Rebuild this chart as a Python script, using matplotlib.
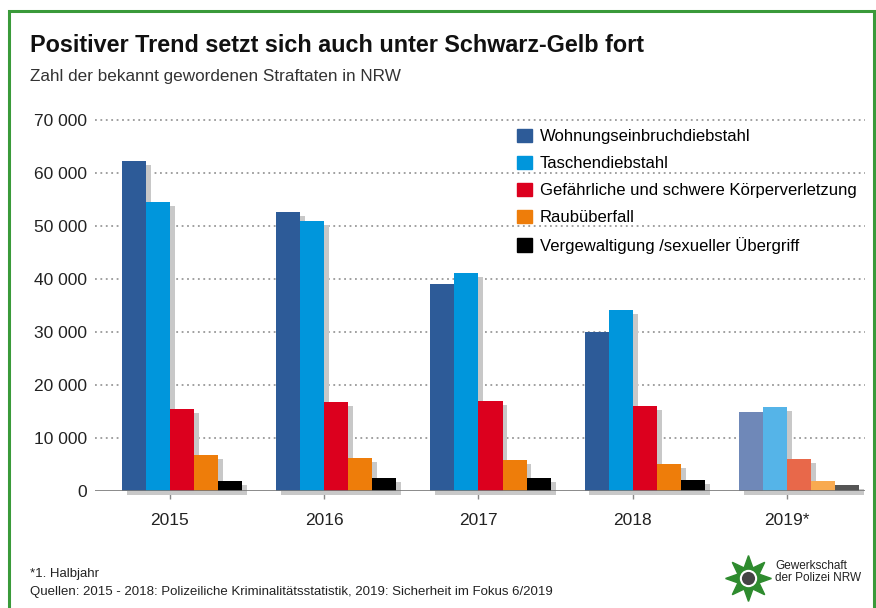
import numpy as np
import matplotlib.pyplot as plt
import matplotlib.patheffects as pe
from matplotlib.patches import Rectangle

plt.rcParams['font.family'] = ['Liberation Sans', 'DejaVu Sans']

years = ['2015', '2016', '2017', '2018', '2019*']
series = ['Wohnungseinbruchdiebstahl', 'Taschendiebstahl',
          'Gefährliche und schwere Körperverletzung', 'Raubüberfall',
          'Vergewaltigung /sexueller Übergriff']
wohnung = [62300, 52600, 39000, 30000, 14900]
tasche = [54500, 50900, 41100, 34100, 15800]
koerper = [15500, 16800, 17000, 16000, 6000]
raub = [6800, 6200, 5800, 5100, 1900]
vergew = [1900, 2400, 2400, 2100, 1100]
values = [wohnung, tasche, koerper, raub, vergew]

colors = ['#2d5b98', '#0096dc', '#dc001e', '#ee7d0a', '#000000']
colors_2019 = ['#6f88b8', '#55b4e8', '#e8684a', '#f8aa50', '#555555']
yticks = [0, 10000, 20000, 30000, 40000, 50000, 60000, 70000]

fig = plt.figure(figsize=(8.76, 6.08), dpi=100)
ax = fig.add_axes([95 / 876, 1 - 491 / 608, 770 / 876, 371 / 608])

x = np.arange(len(years))
w = 0.156
shadow = [pe.SimplePatchShadow(offset=(3.5, -3), shadow_rgbFace='#c8c8c8', alpha=1.0), pe.Normal()]
for i, vals in enumerate(values):
    cols = [colors[i]] * (len(years) - 1) + [colors_2019[i]]
    bars = ax.bar(x + (i - 2) * w, vals, width=w, align='edge', color=cols,
                  label=series[i], zorder=3)
    for b in bars:
        b.set_path_effects(shadow)
        b.set_clip_on(False)

ax.set_xlim(-0.486, 4.506)
ax.set_ylim(0, 70000)
ax.set_yticks(yticks)
ax.set_yticklabels([f'{v:,}'.replace(',', ' ') for v in yticks], fontsize=12.5)
ax.set_xticks(x)
ax.set_xticklabels(years, fontsize=12.5)
for yv in yticks[1:]:
    ax.axhline(yv, color='#999999', lw=1.3, ls=(0, (1, 2)), zorder=1, clip_on=False)
ax.axhline(0, color='#777777', lw=1.2, zorder=4)
for s in ax.spines.values():
    s.set_visible(False)
ax.tick_params(axis='y', length=0, pad=6, colors='#222222')
ax.tick_params(axis='x', length=6, width=1, color='#888888', pad=10)
for t in ax.get_xticklabels():
    t.set_color('#222222')

handles = [Rectangle((0, 0), 1, 1, color=c) for c in colors]
ax.legend(handles, series, loc='upper left', bbox_to_anchor=(0.54, 0.995), frameon=False,
          fontsize=12, handlelength=0.85, handleheight=0.85, handletextpad=0.5,
          labelspacing=0.7, borderaxespad=0)

fig.text(30 / 876, 1 - 46 / 608, 'Positiver Trend setzt sich auch unter Schwarz-Gelb fort',
         fontsize=16.8, fontweight='bold', va='center', ha='left', color='#111111')
fig.text(30 / 876, 1 - 77 / 608, 'Zahl der bekannt gewordenen Straftaten in NRW',
         fontsize=12.3, va='center', ha='left', color='#333333')
fig.text(30 / 876, 1 - 574 / 608, '*1. Halbjahr', fontsize=9.5, va='center', color='#222222')
fig.text(30 / 876, 1 - 592 / 608,
         'Quellen: 2015 - 2018: Polizeiliche Kriminalitätsstatistik, 2019: Sicherheit im Fokus 6/2019',
         fontsize=9.5, va='center', color='#222222')

# logo
lx, ly = 748 / 876, 1 - 578 / 608
fig.lines.append(plt.Line2D([lx], [ly], marker=(8, 1, 0), markersize=33, color='#2e8b2e',
                            transform=fig.transFigure))
fig.lines.append(plt.Line2D([lx], [ly], marker='o', markersize=11, color='#444444',
                            markeredgecolor='white', markeredgewidth=1.5, transform=fig.transFigure))
fig.text(775 / 876, 1 - 572 / 608, 'Gewerkschaft\nder Polizei NRW', fontsize=8.5,
         va='center', ha='left', color='#222222', linespacing=1.1)

# green frame
fig.patches.append(Rectangle((9 / 876, -0.05), 865 / 876, 1.05 - 11 / 608, fill=False,
                             edgecolor='#3a9a3a', lw=2.2, transform=fig.transFigure))

fig.savefig('out.png', dpi=100)
